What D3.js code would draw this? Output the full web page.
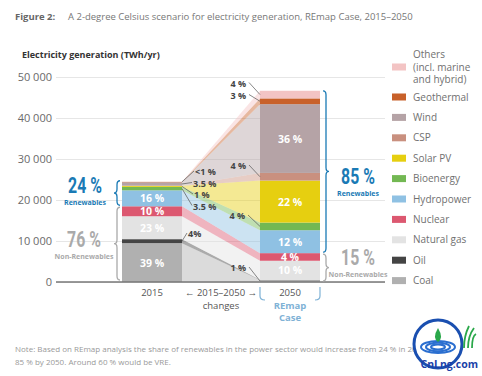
<!DOCTYPE html>
<html>
<head>
<meta charset="utf-8">
<script src="https://cdn.jsdelivr.net/npm/d3@7"></script>
<style>
  body { margin: 0; background: #fff; }
  svg { font-family: "Open Sans", sans-serif; }
</style>
</head>
<body>
<div id="chart-area"></div>
<script>
// chart data (TWh/yr), stacked bottom to top
const categories = ["Coal", "Oil", "Natural gas", "Nuclear", "Hydropower", "Bioenergy", "Solar PV", "CSP", "Wind", "Geothermal", "Others"]
const years = ["2015", "2050"]
const gen2015 = [9480, 970, 5590, 2430, 3890, 850, 240, 30, 850, 80, 40]
const gen2050 = [470, 50, 4660, 1860, 5590, 1860, 10250, 1860, 16780, 1400, 1860]
const colors = ["#b0b0b0", "#444444", "#e3e3e3", "#dc5870", "#8fc1e3", "#73b853", "#e6cf10", "#c9907f", "#b5a3a6", "#c8612a", "#f3c4c4"]
const barLabels2015 = ["39 %", null, "23 %", "10 %", "16 %", null, null, null, null, null, null]
const barLabels2050 = [null, null, "10 %", "4 %", "12 %", null, "22 %", null, "36 %", null, null]
const yTicks = [0, 10000, 20000, 30000, 40000, 50000]
const legendLabels = [["Others", "(incl. marine", "and hybrid)"], ["Geothermal"], ["Wind"], ["CSP"], ["Solar PV"], ["Bioenergy"], ["Hydropower"], ["Nuclear"], ["Natural gas"], ["Oil"], ["Coal"]]
const shares = { ren2015: "24 %", non2015: "76 %", ren2050: "85 %", non2050: "15 %" }

// callouts: [text, year, category, label x, label y]
const callouts = [
    ["4 %", "2050", "Others", 247, 85.5],
    ["3 %", "2050", "Geothermal", 247, 97.5],
    ["4 %", "2050", "CSP", 247, 168],
    ["4 %", "2050", "Bioenergy", 246, 218],
    ["1 %", "2050", "Coal", 247, 270],
    ["<1 %", "2015", "Others", 195, 174],
    ["3.5 %", "2015", "Wind", 193, 185.5],
    ["1 %", "2015", "Solar PV", 194, 197],
    ["3.5 %", "2015", "Bioenergy", 193, 208.5],
    ["4%", "2015", "Oil", 188, 236]
]

const W = 482, H = 376
const BAR_W = 60

const svg = d3.select("#chart-area").append("svg")
    .attr("width", W)
    .attr("height", H)

const rows = years.map((yr, i) => {
    const r = { year: yr }
    categories.forEach((c, j) => r[c] = (i === 0 ? gen2015 : gen2050)[j])
    return r
})
const series = d3.stack().keys(categories)(rows)

const x = d3.scalePoint().domain(years).range([152, 290])
const y = d3.scaleLinear().domain([0, 50000]).range([282, 77])
const color = d3.scaleOrdinal().domain(categories).range(colors)

// title
svg.append("text").attr("x", 15).attr("y", 20)
    .attr("font-size", 9.5).attr("font-weight", 700).attr("fill", "#666")
    .text("Figure 2:")
svg.append("text").attr("x", 68).attr("y", 20)
    .attr("font-size", 9.5).attr("fill", "#777")
    .text("A 2-degree Celsius scenario for electricity generation, REmap Case, 2015–2050")
svg.append("text").attr("x", 22).attr("y", 58)
    .attr("font-size", 9).attr("font-weight", 700).attr("fill", "#333")
    .text("Electricity generation (TWh/yr)")

// gridlines + y axis labels
const yAxis = d3.axisLeft(y).tickValues(yTicks)
    .tickSize(-(385 - 56))
    .tickFormat(d => d3.format(",")(d).replace(",", " "))
const ga = svg.append("g").attr("transform", "translate(56,0)").call(yAxis)
ga.select(".domain").remove()
ga.selectAll(".tick line").attr("stroke", "#e6e6e6")
ga.selectAll(".tick text").attr("x", -4).attr("font-size", 11)
    .attr("font-family", "Open Sans").attr("fill", "#6a6a6a")

// flows between the bars
const flow = d3.area()
    .x((d, i) => i === 0 ? x("2015") + BAR_W / 2 : x("2050") - BAR_W / 2)
    .y0(d => y(d[0]))
    .y1(d => y(d[1]))
svg.append("g").selectAll("path")
    .data(series)
    .enter().append("path")
    .attr("d", flow)
    .attr("fill", d => color(d.key))
    .attr("fill-opacity", 0.45)

// stacked bars
const layers = svg.append("g").selectAll("g")
    .data(series)
    .enter().append("g")
    .attr("fill", d => color(d.key))
layers.selectAll("rect")
    .data(d => d)
    .enter().append("rect")
    .attr("x", d => x(d.data.year) - BAR_W / 2)
    .attr("y", d => y(d[1]))
    .attr("width", BAR_W)
    .attr("height", d => y(d[0]) - y(d[1]))

// percent labels inside the bars
series.forEach((s, j) => {
    [barLabels2015[j], barLabels2050[j]].forEach((lab, i) => {
        if (!lab) return
        svg.append("text")
            .attr("x", x(years[i]))
            .attr("y", (y(s[i][0]) + y(s[i][1])) / 2 + 4)
            .attr("text-anchor", "middle")
            .attr("font-size", 10.5).attr("font-weight", 700)
            .attr("fill", "#fff")
            .text(lab)
    })
})

// baseline
svg.append("line").attr("x1", 56).attr("x2", 385)
    .attr("y1", y(0)).attr("y2", y(0))
    .attr("stroke", "#777").attr("stroke-width", 1.5)

// callouts with leader lines
callouts.forEach(([txt, yr, cat, lx, ly]) => {
    const s = series[categories.indexOf(cat)][years.indexOf(yr)]
    const ax = yr === "2015" ? x(yr) + BAR_W / 2 : x(yr) - BAR_W / 2
    const ay = (y(s[0]) + y(s[1])) / 2
    const left = yr === "2015"
    svg.append("line")
        .attr("x1", ax).attr("y1", ay)
        .attr("x2", left ? lx - 1 : lx + 2).attr("y2", ly - 3)
        .attr("stroke", "#555").attr("stroke-width", 0.7)
    svg.append("text")
        .attr("x", left ? lx : lx - 1).attr("y", ly + 1)
        .attr("text-anchor", left ? "start" : "end")
        .attr("font-size", 9).attr("font-weight", 700).attr("fill", "#444")
        .text(txt)
})

// curly braces
function brace(xTip, y0, y1, dir, col) {
    const w = 6 * dir, ym = (y0 + y1) / 2, r = 4
    const xe = xTip + w, xs = xTip + w / 2
    svg.append("path")
        .attr("d", `M${xe},${y0} Q${xs},${y0} ${xs},${y0 + r} L${xs},${ym - r} Q${xs},${ym} ${xTip},${ym}
                    Q${xs},${ym} ${xs},${ym + r} L${xs},${y1 - r} Q${xs},${y1} ${xe},${y1}`)
        .attr("fill", "none").attr("stroke", col).attr("stroke-width", 1.3)
}
const total2015 = d3.sum(gen2015), total2050 = d3.sum(gen2050)
const nonRen2015 = d3.sum(gen2015.slice(0, 4)), nonRen2050 = d3.sum(gen2050.slice(0, 4))
brace(114, y(total2015) - 1, y(nonRen2015) - 1, 1, "#1a7ab5")
brace(114, y(nonRen2015) + 1, y(0) - 2, 1, "#aaa")
brace(329, y(total2050), y(nonRen2050) - 1, -1, "#1a7ab5")
brace(329, y(nonRen2050) + 1, y(0) - 1, -1, "#aaa")

// big share numbers
function share(cx, cy, big, small, col) {
    svg.append("text")
        .attr("transform", `translate(${cx},${cy}) scale(0.72,1)`)
        .attr("text-anchor", "middle")
        .attr("font-family", "Roboto").attr("font-size", 22).attr("font-weight", 700)
        .attr("fill", col)
        .text(big)
    svg.append("text")
        .attr("x", cx).attr("y", cy + 11.5)
        .attr("text-anchor", "middle")
        .attr("font-size", 7).attr("font-weight", 700).attr("fill", col)
        .text(small)
}
share(85, 193, shares.ren2015, "Renewables", "#1a7ab5")
share(84, 247, shares.non2015, "Non-Renewables", "#aaa")
share(358, 184, shares.ren2050, "Renewables", "#1a7ab5")
share(358, 265, shares.non2050, "Non-Renewables", "#aaa")

// x labels
const xl = svg.append("g").attr("font-size", 9.5).attr("fill", "#555").attr("text-anchor", "middle")
xl.append("text").attr("x", x("2015")).attr("y", 296).attr("fill", "#555").text("2015")
const mid = (x("2015") + x("2050")) / 2
xl.append("text").attr("x", mid).attr("y", 296).attr("fill", "#555").text("←  2015–2050  →")
xl.append("text").attr("x", mid).attr("y", 308.5).attr("fill", "#555").text("changes")
xl.append("text").attr("x", x("2050")).attr("y", 296).attr("fill", "#555").text("2050")
xl.append("text").attr("x", x("2050")).attr("y", 308.5).attr("fill", "#7fb2d6").attr("font-weight", 700).text("REmap")
xl.append("text").attr("x", x("2050")).attr("y", 321).attr("fill", "#7fb2d6").attr("font-weight", 700).text("Case")
const bl = x("2050") - BAR_W / 2, br = x("2050") + BAR_W / 2
svg.append("path")
    .attr("d", `M${bl},287 L${bl},296 Q${bl},300 ${bl + 5},300 M${br},287 L${br},296 Q${br},300 ${br - 5},300`)
    .attr("fill", "none").attr("stroke", "#7fb2d6").attr("stroke-width", 1.2)

// legend (top item = last category)
const legend = svg.append("g").attr("transform", "translate(392,0)")
legendLabels.forEach((lines, i) => {
    const cat = categories[categories.length - 1 - i]
    const cy = i === 0 ? 67 : 97 + (i - 1) * 20.4
    legend.append("rect").attr("x", 0).attr("y", cy - 3.5)
        .attr("width", 14).attr("height", 7).attr("fill", color(cat))
    const off = lines.length === 3 ? -12.5 : 0
    lines.forEach((ln, k) => {
        legend.append("text").attr("x", 21).attr("y", cy + off + k * 12.5 + 3.5)
            .attr("font-size", 10).attr("fill", "#707070").text(ln)
    })
})

// note
svg.append("text").attr("x", 15).attr("y", 352).attr("font-size", 8).attr("fill", "#999")
    .text("Note: Based on REmap analysis the share of renewables in the power sector would increase from 24 % in 2015 to")
svg.append("text").attr("x", 15).attr("y", 365).attr("font-size", 8).attr("fill", "#999")
    .text("85 % by 2050. Around 60 % would be VRE.")

// watermark logo
const logo = svg.append("g").attr("transform", "translate(438,344)")
logo.append("circle").attr("r", 24).attr("fill", "#fff").attr("stroke", "#1a4fb0").attr("stroke-width", 3)
;[17, 12, 7].forEach(r => logo.append("ellipse").attr("cy", 3).attr("rx", r).attr("ry", r * 0.35)
    .attr("fill", "none").attr("stroke", "#2b6fd0").attr("stroke-width", 2))
logo.append("path").attr("d", "M0,-16 Q6,-6 0,-2 Q-6,-6 0,-16Z").attr("fill", "#2aa84a")
;[[26, 4, 31, -18], [30, 4, 36, -16], [34, 4, 38, -10]].forEach(([a, b, c, d]) =>
    logo.append("path").attr("d", `M${a},${b} Q${a},${b - 12} ${c},${d}`)
        .attr("fill", "none").attr("stroke", "#2aa84a").attr("stroke-width", 1.8))
logo.append("text").attr("x", 40).attr("y", 24).attr("text-anchor", "end")
    .attr("font-size", 10.5).attr("font-weight", 700).attr("fill", "#1a3fa8")
    .text("CnLng.com")
</script>
</body>
</html>
